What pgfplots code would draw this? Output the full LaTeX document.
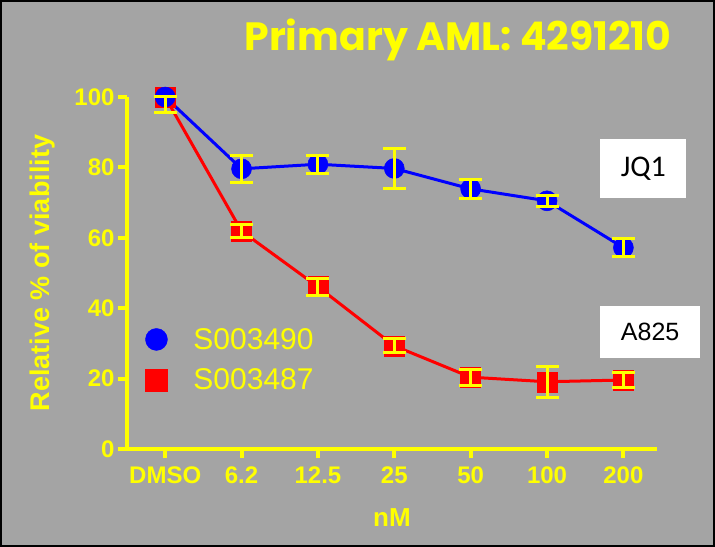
\documentclass[border=0pt]{standalone}
\usepackage{pgfplots}
\pgfplotsset{compat=1.18}
\usepackage{pgfplotstable}
\usepackage{fontspec}
\setmainfont{Liberation Sans}
\newfontfamily\titlefont{Poppins}
\newfontfamily\boxfont{Carlito}
\definecolor{bg}{RGB}{164,164,164}
\definecolor{yel}{RGB}{255,255,0}
\pgfplotstableread{
x y ep em
0 100 0 4.3
1 79.6 3.8 3.8
2 80.9 2.6 2.6
3 79.7 5.8 5.8
4 73.9 2.8 2.8
5 70.5 1.6 1.6
6 57.2 2.6 2.6
}\blue
\pgfplotstableread{
x y ep em
0 100 0 4.3
1 61.9 1.8 1.8
2 46.1 2.4 2.4
3 29.3 2.0 2.0
4 20.4 2.3 2.3
5 19.1 4.4 4.4
6 19.6 2.1 2.1
}\red
\pgfplotsset{geom/.style={at={(127bp,98bp)}, anchor=south west,
  scale only axis, width=530bp, height=352bp,
  xmin=-0.50, xmax=6.44, ymin=0, ymax=100, clip=false}}
\begin{document}
\begin{tikzpicture}
\fill[bg] (0,0) rectangle (715bp,547bp);
\draw[black, line width=2bp] (1bp,1bp) rectangle (714bp,546bp);
\node[text=yel] at (458bp,507bp) {\resizebox{427bp}{!}{\titlefont\bfseries Primary AML: 4291210}};
\begin{axis}[
  geom,
  axis lines*=left,
  axis line style={yel, line width=4bp},
  xtick={0,...,6}, xticklabels={DMSO,6.2,12.5,25,50,100,200},
  ytick={0,20,...,100},
  tick style={yel, line width=4bp},
  tick align=outside, major tick length=9bp,
  /pgf/number format/assume math mode=true,
  ticklabel style={font=\fontsize{24bp}{28bp}\selectfont\bfseries, text=yel},
  xticklabel style={yshift=-5bp},
  xlabel={nM}, ylabel={Relative \% of viability},
  label style={font=\fontsize{26bp}{30bp}\selectfont\bfseries, text=yel},
  ylabel style={font=\fontsize{27bp}{31bp}\selectfont\bfseries, yshift=12bp},
  xlabel style={yshift=-18bp},
  legend style={draw=none, fill=none, text=yel, font=\fontsize{30bp}{34bp}\selectfont,
    at={(axis cs:-0.30,35.5)}, anchor=north west, row sep=14bp,
    /tikz/every odd column/.append style={column sep=24bp}},
  legend cell align=left,
]
\addlegendimage{only marks, mark=*, blue, mark size=11bp}
\addlegendentry{S003490}
\addlegendimage{only marks, mark=square*, red, mark size=11bp}
\addlegendentry{S003487}
\addplot[red, line width=3bp, mark=square*, mark size=10bp, mark options={line width=0.5bp}, forget plot] table[x=x,y=y] {\red};
\addplot[blue, line width=3bp, mark=*, mark size=10bp, mark options={line width=0.5bp}, forget plot] table[x=x,y=y] {\blue};
\node[fill=white, minimum width=86bp, minimum height=59bp, font=\fontsize{30bp}{34bp}\selectfont\boxfont] at (axis cs:6.26,79.7) {JQ1};
\node[fill=white, minimum width=100bp, minimum height=52bp, font=\fontsize{25bp}{29bp}\selectfont] at (axis cs:6.35,33.2) {A825};
\end{axis}
\begin{axis}[geom, hide axis]
\addplot[draw=none, forget plot, error bars/.cd, y dir=both, y explicit,
  error bar style={draw=yel, line width=3bp}, error mark=-,
  error mark options={draw=yel, rotate=90, mark size=11.5bp, line width=3bp}] table[x=x,y=y,y error plus=ep,y error minus=em] {\red};
\addplot[draw=none, forget plot, error bars/.cd, y dir=both, y explicit,
  error bar style={draw=yel, line width=3bp}, error mark=-,
  error mark options={draw=yel, rotate=90, mark size=11.5bp, line width=3bp}] table[x=x,y=y,y error plus=ep,y error minus=em] {\blue};
\end{axis}
\end{tikzpicture}
\end{document}
